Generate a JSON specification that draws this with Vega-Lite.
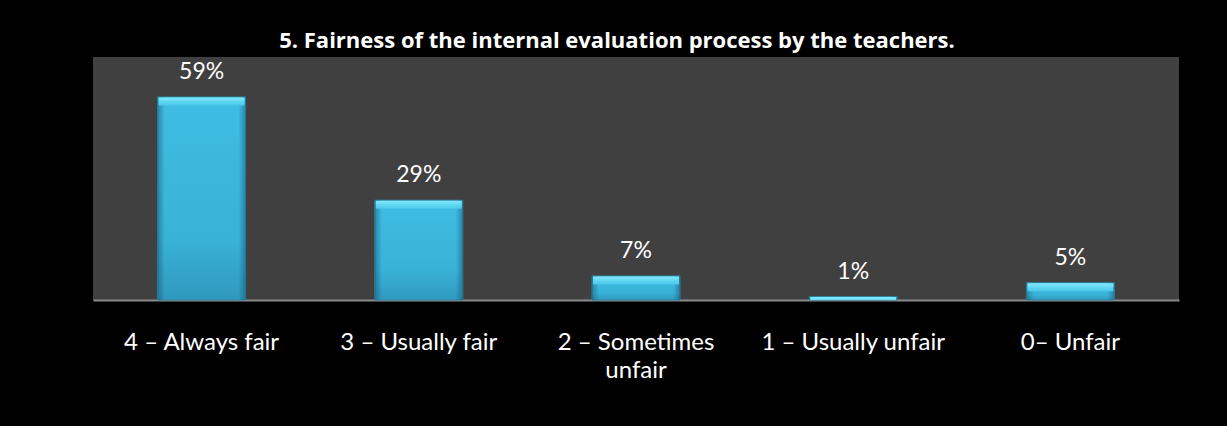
{
  "$schema": "https://vega.github.io/schema/vega-lite/v6.json",
  "width": 1086,
  "height": 243,
  "autosize": {"type": "none"},
  "padding": {"left": 93, "top": 57, "right": 48, "bottom": 126},
  "background": "#000000",
  "title": {
    "text": "5. Fairness of the internal evaluation process by the teachers.",
    "color": "#ffffff",
    "font": "Open Sans",
    "fontSize": 22,
    "fontWeight": "bold",
    "anchor": "middle",
    "dx": -19,
    "dy": 18,
    "offset": 5,
    "baseline": "alphabetic"
  },
  "config": {"view": {"fill": "#404040", "stroke": null}},
  "data": {
    "values": [
      {"category": "4 – Always fair", "share": 0.59},
      {"category": "3 – Usually fair", "share": 0.29},
      {"category": "2 – Sometimes unfair", "share": 0.07},
      {"category": "1 – Usually unfair", "share": 0.01},
      {"category": "0– Unfair", "share": 0.05}
    ]
  },
  "encoding": {
    "x": {
      "field": "category",
      "type": "nominal",
      "sort": null,
      "scale": {"paddingInner": 0, "paddingOuter": 0},
      "axis": {
        "title": null,
        "labelAngle": 0,
        "labelColor": "#ffffff",
        "labelFont": "Lato",
        "labelFontSize": 24,
        "labelPadding": 30,
        "labelLineHeight": 28,
        "labelLimit": 400,
        "ticks": false,
        "grid": false,
        "domainColor": "#8a8a8a",
        "domainWidth": 2,
        "labelExpr": "datum.label == '2 – Sometimes unfair' ? ['2 – Sometimes', 'unfair'] : datum.label"
      }
    },
    "y": {
      "field": "share",
      "type": "quantitative",
      "scale": {"domain": [0, 0.706]},
      "axis": null
    }
  },
  "layer": [
    {
      "mark": {
        "type": "bar",
        "width": {"band": 0.405},
        "color": {
          "gradient": "linear",
          "x1": 0, "y1": 0, "x2": 0, "y2": 1,
          "stops": [
            {"offset": 0, "color": "#3fbde2"},
            {"offset": 0.7, "color": "#39b2d7"},
            {"offset": 1, "color": "#3099bd"}
          ]
        },
        "stroke": "#2a86a4",
        "strokeWidth": 1
      }
    },
    {
      "mark": {
        "type": "bar",
        "width": {"band": 0.405},
        "color": {
          "gradient": "linear",
          "x1": 0, "y1": 0, "x2": 1, "y2": 0,
          "stops": [
            {"offset": 0, "color": "rgba(15,70,100,0.45)"},
            {"offset": 0.08, "color": "rgba(15,70,100,0)"},
            {"offset": 0.92, "color": "rgba(15,70,100,0)"},
            {"offset": 1, "color": "rgba(15,70,100,0.45)"}
          ]
        }
      }
    },
    {
      "mark": {
        "type": "tick",
        "orient": "horizontal",
        "thickness": 8,
        "size": 86,
        "yOffset": 4.5,
        "clip": true,
        "opacity": 1,
        "color": {
          "gradient": "linear",
          "x1": 0, "y1": 0, "x2": 0, "y2": 1,
          "stops": [
            {"offset": 0, "color": "#86e8fb"},
            {"offset": 0.5, "color": "#62d8f3"},
            {"offset": 1, "color": "#4cc8ea"}
          ]
        }
      }
    },
    {
      "mark": {
        "type": "text",
        "dy": -18,
        "baseline": "alphabetic",
        "fontSize": 23,
        "font": "Lato",
        "color": "#ffffff"
      },
      "encoding": {"text": {"field": "share", "format": ".0%"}}
    }
  ]
}
